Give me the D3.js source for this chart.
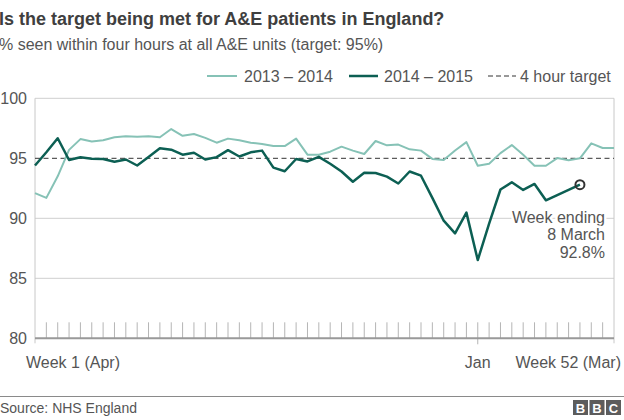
<!DOCTYPE html>
<html><head><meta charset="utf-8">
<script src="https://cdn.jsdelivr.net/npm/d3@7"></script>
<style>
html,body{margin:0;padding:0;background:#fff;}
svg{display:block;font-family:"Liberation Sans",Arial,Helvetica,sans-serif;}
</style></head>
<body>
<svg id="chart" width="624" height="420"></svg>
<script>
const title = "Is the target being met for A&E patients in England?";
const subtitle = "% seen within four hours at all A&E units (target: 95%)";
const seriesNames = ["2013 \u2013 2014", "2014 \u2013 2015", "4 hour target"];
const weeks = d3.range(1, 53);
const values2013 = [92.1, 91.7, 93.5, 95.7, 96.6, 96.4, 96.5, 96.75, 96.83, 96.8, 96.83, 96.75, 97.44, 96.87, 97.02, 96.7, 96.3, 96.64, 96.5, 96.3, 96.2, 96.02, 96.02, 96.64, 95.3, 95.3, 95.55, 95.97, 95.64, 95.36, 96.44, 96.08, 96.14, 95.75, 95.64, 94.95, 94.85, 95.65, 96.35, 94.38, 94.55, 95.43, 96.1, 95.3, 94.38, 94.38, 95.02, 94.83, 95.0, 96.25, 95.86, 95.86];
const values2014 = [94.4, 95.5, 96.67, 94.86, 95.08, 94.97, 94.94, 94.72, 94.9, 94.4, 95.1, 95.83, 95.72, 95.3, 95.46, 94.9, 95.1, 95.68, 95.15, 95.5, 95.64, 94.22, 93.92, 94.94, 94.74, 95.12, 94.55, 93.9, 93.05, 93.8, 93.78, 93.47, 92.9, 93.9, 93.55, 91.7, 89.8, 88.75, 90.47, 86.52, 89.55, 92.4, 93.0, 92.36, 92.86, 91.5, 91.94, 92.36, 92.8];
const target = 95;
const yTicks = [80, 85, 90, 95, 100];
const xLabels = [{week: 1, text: "Week 1 (Apr)"}, {week: 40, text: "Jan"}, {week: 52, text: "Week 52 (Mar)"}];
const annotationLines = ["Week ending", "8 March", "92.8%"];
const source = "Source: NHS England";

const light = "#86c2b6", dark = "#0c5f53", textCol = "#555";
const svg = d3.select("#chart");
const x = d3.scaleLinear().domain([1, 52]).range([35, 614]);
const y = d3.scaleLinear().domain([80, 100]).range([338.3, 98.3]);

// titles
svg.append("text").attr("x", -1).attr("y", 25).attr("font-size", 18).attr("font-weight", "bold").attr("fill", "#3f3f3f").text(title);
svg.append("text").attr("x", -1).attr("y", 50).attr("font-size", 16).attr("fill", textCol).text(subtitle);

// gridlines
svg.append("g").selectAll("line").data(yTicks.filter(d => d !== 80 && d !== target)).join("line")
  .attr("x1", x(1)).attr("x2", x(52)).attr("y1", d => y(d)).attr("y2", d => y(d))
  .attr("stroke", "#cfcfcf").attr("stroke-width", 1);
// frame verticals
[1, 52].forEach(w => svg.append("line").attr("x1", x(w)).attr("x2", x(w)).attr("y1", y(100)).attr("y2", y(80) + 5)
  .attr("stroke", "#c8c8c8").attr("stroke-width", 1));

// y tick labels
svg.append("g").selectAll("text").data(yTicks).join("text")
  .attr("x", 27).attr("y", d => y(d)).attr("dy", "0.35em").attr("text-anchor", "end")
  .attr("font-size", 16).attr("fill", textCol).text(d => d);

// minor week ticks
svg.append("g").selectAll("line").data(weeks.filter(w => w > 1 && w < 52)).join("line")
  .attr("x1", d => x(d)).attr("x2", d => x(d))
  .attr("y1", y(80) - 16).attr("y2", d => d === 40 ? y(80) + 6 : y(80))
  .attr("stroke", "#b5b5b5").attr("stroke-width", 1);

// baseline
svg.append("line").attr("x1", x(1)).attr("x2", x(52)).attr("y1", y(80)).attr("y2", y(80))
  .attr("stroke", "#999").attr("stroke-width", 2);

// x labels
svg.append("g").selectAll("text").data(xLabels).join("text")
  .attr("x", d => d.week === 1 ? x(1) - 9 : d.week === 52 ? x(52) + 7 : x(d.week))
  .attr("y", 368)
  .attr("text-anchor", d => d.week === 1 ? "start" : d.week === 52 ? "end" : "middle")
  .attr("font-size", 16).attr("fill", textCol).text(d => d.text);

// target line
svg.append("line").attr("x1", x(1)).attr("x2", x(52)).attr("y1", y(target)).attr("y2", y(target))
  .attr("stroke", "#333").attr("stroke-width", 1).attr("stroke-dasharray", "5,3.5");

const line = d3.line().x((d, i) => x(i + 1)).y(d => y(d));
svg.append("path").datum(values2013).attr("d", line).attr("fill", "none")
  .attr("stroke", light).attr("stroke-width", 2).attr("stroke-linejoin", "round");
svg.append("path").datum(values2014).attr("d", line).attr("fill", "none")
  .attr("stroke", dark).attr("stroke-width", 2.5).attr("stroke-linejoin", "round");

// annotation
const lastI = values2014.length - 1;
svg.append("circle").attr("cx", x(lastI + 1)).attr("cy", y(values2014[lastI])).attr("r", 4.5)
  .attr("fill", "none").attr("stroke", "#333").attr("stroke-width", 2);
svg.append("g").selectAll("text").data(annotationLines).join("text")
  .attr("x", 605).attr("y", (d, i) => 222.5 + i * 17.5).attr("text-anchor", "end")
  .attr("font-size", 16).attr("fill", textCol)
  .attr("stroke", "#fff").attr("stroke-width", 5).attr("paint-order", "stroke").text(d => d);

// legend
const legend = [
  {name: seriesNames[0], x1: 207, x2: 237, tx: 244, color: light, w: 2, dash: null},
  {name: seriesNames[1], x1: 349, x2: 378, tx: 384, color: dark, w: 2.5, dash: null},
  {name: seriesNames[2], x1: 488, x2: 516, tx: 520, color: "#333", w: 1, dash: "5,3"}
];
const lg = svg.append("g");
legend.forEach(d => {
  lg.append("line").attr("x1", d.x1).attr("x2", d.x2).attr("y1", 76).attr("y2", 76)
    .attr("stroke", d.color).attr("stroke-width", d.w).attr("stroke-dasharray", d.dash);
  lg.append("text").attr("x", d.tx).attr("y", 81.5).attr("font-size", 16).attr("fill", textCol).text(d.name);
});

// footer
svg.append("line").attr("x1", 0).attr("x2", 624).attr("y1", 396.5).attr("y2", 396.5).attr("stroke", "#8a8a8a").attr("stroke-width", 1);
svg.append("text").attr("x", 0).attr("y", 413).attr("font-size", 14).attr("fill", textCol).text(source);
const logo = svg.append("g");
["B", "B", "C"].forEach((ch, i) => {
  logo.append("rect").attr("x", 573 + i * 16.5).attr("y", 400).attr("width", 15).attr("height", 15).attr("fill", "#5c5c5c");
  logo.append("text").attr("x", 573 + i * 16.5 + 7.5).attr("y", 412.5).attr("text-anchor", "middle")
    .attr("font-size", 13).attr("font-weight", "bold").attr("fill", "#fff").text(ch);
});
</script>
</body></html>
